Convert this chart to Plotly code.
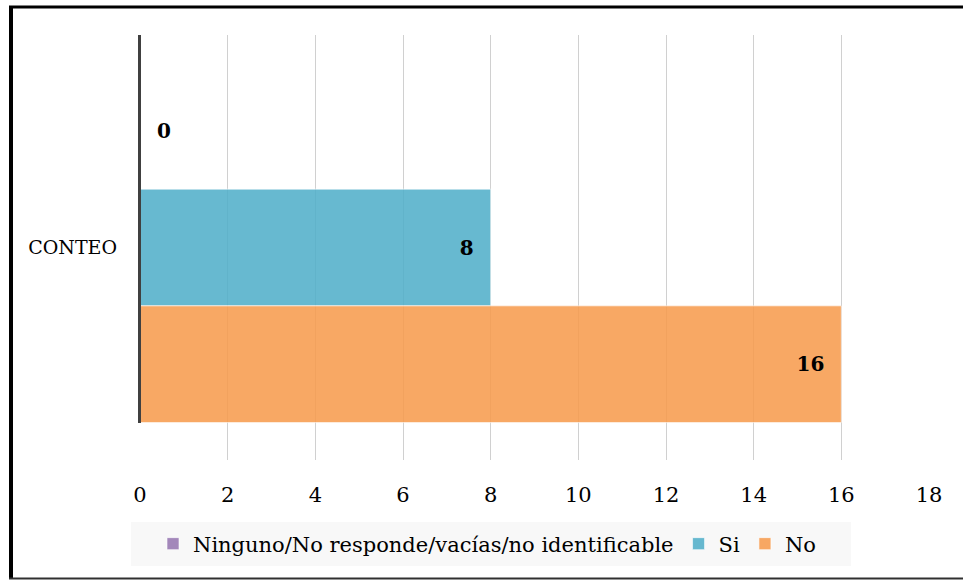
import plotly.graph_objects as go

categories = ["CONTEO"]
series_names = ["Ninguno/No responde/vacías/no identificable", "Si", "No"]
series_values = [[0], [8], [16]]
series_colors = ["rgba(149,116,176,0.86)", "rgba(78,173,200,0.86)", "rgba(247,154,74,0.86)"]
x_ticks = [0, 2, 4, 6, 8, 10, 12, 14, 16, 18]

FONT = "DejaVu Serif"

# figure geometry (body margin removed via post_script)
W, H = 963, 581
L, T, PW, PH = 140, 35, 789, 425
R, B = W - L - PW, H - T - PH


def px(xref):  # reference-image x pixel -> paper x
    return (xref - L) / PW


def py(yref):  # reference-image y pixel -> paper y
    return (T + PH - yref) / PH


fig = go.Figure()
for name, vals, col in zip(series_names, series_values, series_colors):
    zero = all(v == 0 for v in vals)
    fig.add_trace(go.Bar(
        y=categories, x=vals, name=name, orientation="h",
        marker=dict(color=col, line=dict(color="rgba(255,255,255,0.6)", width=1)),
        texttemplate=("\u00a0\u00a0%{x}" if zero else "%{x}\u00a0\u00a0"),
        textposition=("outside" if zero else "inside"),
        insidetextanchor="end",
        textfont=dict(family=FONT, size=20, color="black", weight="bold"),
        cliponaxis=False,
    ))

fig.update_layout(
    width=W, height=H,
    margin=dict(l=L, r=R, t=T, b=B),
    paper_bgcolor="white", plot_bgcolor="white",
    barmode="group", bargap=0.176, bargroupgap=0,
    font=dict(family=FONT, size=19, color="black"),
    showlegend=True,
    legend=dict(
        orientation="h", x=px(153), xanchor="left", y=py(544), yanchor="middle",
        bgcolor="rgba(0,0,0,0)", font=dict(family=FONT, size=21, color="black"),
        itemwidth=30, traceorder="normal",
    ),
    xaxis=dict(
        range=[0, 18], tickvals=x_ticks, showgrid=True, gridcolor="#D0D0D0", gridwidth=1,
        zeroline=False, showline=False, ticks="", ticklabelstandoff=20,
        tickfont=dict(family=FONT, size=21, color="black"),
    ),
    yaxis=dict(
        autorange="reversed", showgrid=False, zeroline=False, showline=False,
        ticks="", ticklabelstandoff=22,
        tickfont=dict(family=FONT, size=19, color="black"),
    ),
    shapes=[
        # legend background
        dict(type="rect", xref="paper", yref="paper", x0=px(131), x1=px(851), y0=py(566), y1=py(522),
             fillcolor="#F8F8F8", line=dict(width=0), layer="below"),
        # value axis line at 0
        dict(type="line", xref="paper", yref="paper", x0=px(139.5), x1=px(139.5), y0=py(423), y1=1,
             line=dict(color="#404040", width=3)),
        # outer frame
        dict(type="line", xref="paper", yref="paper", x0=px(11), x1=px(11),
             y0=py(579), y1=py(6), line=dict(color="black", width=4)),
        dict(type="line", xref="paper", yref="paper", x0=px(9), x1=px(975),
             y0=py(7), y1=py(7), line=dict(color="black", width=3)),
        dict(type="line", xref="paper", yref="paper", x0=px(9), x1=px(975),
             y0=py(578.5), y1=py(578.5), line=dict(color="#303030", width=2)),
    ],
)

fig.write_html("out.html", config={"displayModeBar": False},
               post_script="document.body.style.margin='0';")
